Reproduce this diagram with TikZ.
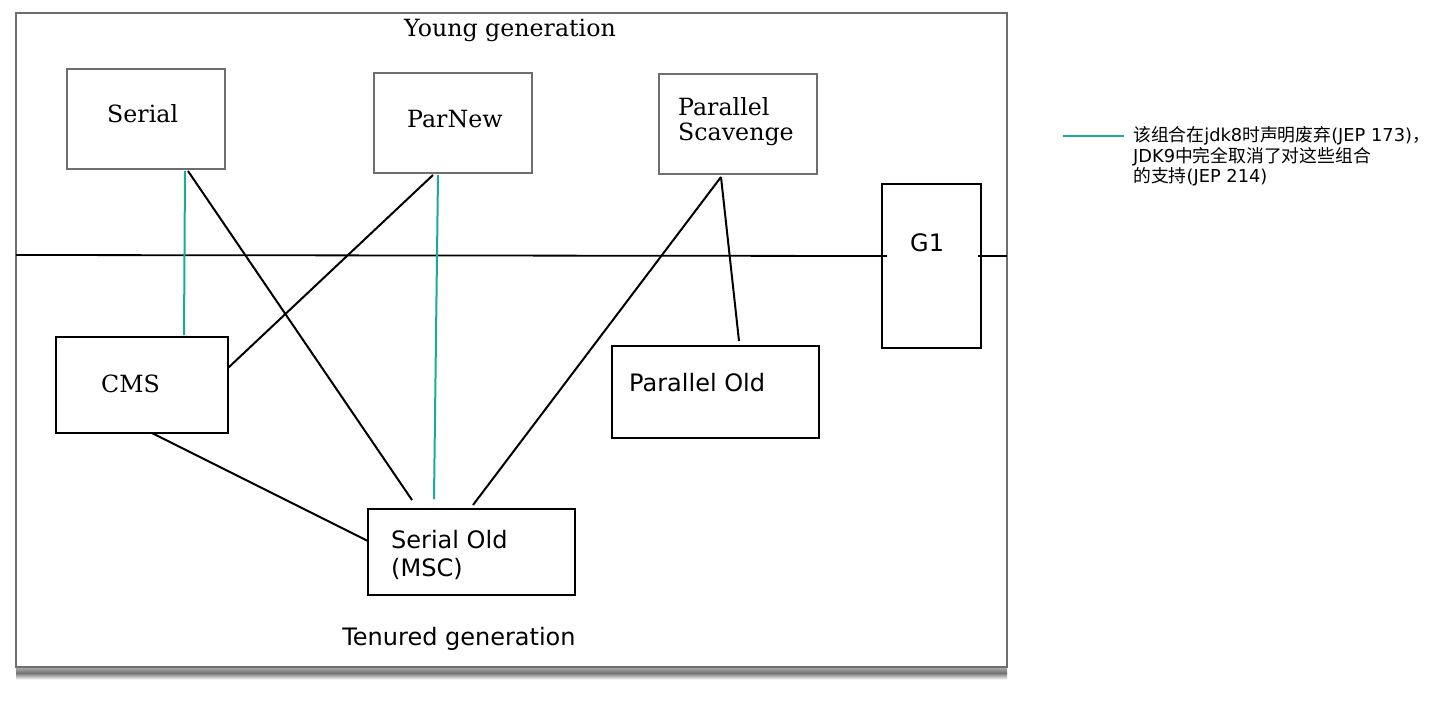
\documentclass[tikz,border=0pt]{standalone}
\usepackage{fontspec}
\setmainfont{DejaVu Serif}
\newfontfamily\dvsans{DejaVu Sans}
\newfontfamily\cjk{Noto Sans CJK SC}
\definecolor{tealline}{RGB}{26,170,155}
\definecolor{framegray}{RGB}{110,110,110}
\tikzset{
  ybox/.style={draw=framegray, line width=1.4pt, inner sep=0pt, outer sep=0pt, anchor=north west},
  tbox/.style={draw=black, line width=2pt, inner sep=0pt, outer sep=0pt, anchor=north west},
  conn/.style={draw=black, line width=2pt},
  tconn/.style={draw=tealline, line width=2pt},
  serift/.style={font=\fontsize{23.7}{26}\selectfont, inner sep=0pt, anchor=base west},
  sanst/.style={font=\dvsans\fontsize{24}{26}\selectfont, inner sep=0pt, anchor=base west},
  legt/.style={font=\dvsans\fontsize{17.8}{20}\selectfont, inner sep=0pt, anchor=base west}
}
\begin{document}
\begin{tikzpicture}[x=1pt,y=-1pt]
\useasboundingbox (0,0) rectangle (1440,710);
% outer frame with bottom shadow
\shade[top color=gray!55, bottom color=black!55] (16,666) rectangle (1007,673);
\shade[top color=black!55, bottom color=gray!10] (16,673) rectangle (1007,679);
\node[ybox, minimum width=991pt, minimum height=654pt] (frame) at (16,13) {};
\node[serift, anchor=base] (young) at (510,36) {Young generation};
\node[sanst, anchor=base] (tenured) at (459,645) {Tenured generation};
% young generation boxes
\node[ybox, minimum width=158pt, minimum height=100pt] (serial) at (67,69) {};
\node[serift] (serialt) at (107,122) {Serial};
\node[ybox, minimum width=158pt, minimum height=100pt] (parnew) at (374,73) {};
\node[serift] (parnewt) at (407,127) {ParNew};
\node[ybox, minimum width=158pt, minimum height=100pt] (ps) at (659,74) {};
\node[serift] (pst1) at (678,115) {Parallel};
\node[serift] (pst2) at (678,140) {Scavenge};
% tenured boxes
\node[tbox, minimum width=99pt, minimum height=164pt] (g1) at (882,184) {};
\node[sanst] (g1t) at (910,251) {G1};
\node[tbox, minimum width=172pt, minimum height=96pt] (cms) at (56,337) {};
\node[serift] (cmst) at (101,392) {CMS};
\node[tbox, minimum width=207pt, minimum height=92pt] (pold) at (612,346) {};
\node[sanst] (poldt) at (629,391) {Parallel Old};
\node[tbox, minimum width=207pt, minimum height=86pt] (sold) at (368,509) {};
\node[sanst] (soldt1) at (391,548) {Serial Old};
\node[sanst] (soldt2) at (391,576) {(MSC)};
% divider line
\coordinate (divL) at (16,255);
\coordinate (divG1a) at (887,256);
\coordinate (divG1b) at (978,256);
\coordinate (divR) at (1007,256);
\draw[conn, line width=1.8pt] (divL) -- (divG1a);
\draw[conn, line width=1.8pt] (divG1b) -- (divR);
% connector end points
\coordinate (sA) at (185,171);
\coordinate (sB) at (188,171);
\coordinate (cmsT) at (184,335);
\coordinate (cmsR) at (228,368);
\coordinate (cmsB) at (152,433);
\coordinate (pnA) at (433,175);
\coordinate (pnB) at (438,175);
\coordinate (psB) at (721,177);
\coordinate (soA) at (412,500);
\coordinate (soB) at (434,499);
\coordinate (soC) at (473,505);
\coordinate (soL) at (368,541);
\coordinate (poT) at (739,341);
\draw[tconn] (sA) -- (cmsT);
\draw[conn] (sB) -- (soA);
\draw[conn] (pnA) -- (cmsR);
\draw[tconn] (pnB) -- (soB);
\draw[conn] (psB) -- (soC);
\draw[conn] (psB) -- (poT);
\draw[conn] (cmsB) -- (soL);
% legend
\coordinate (legA) at (1063,136);
\coordinate (legB) at (1124,136);
\draw[tconn] (legA) -- (legB);
\node[legt] (leg1) at (1133,141) {{\cjk 该组合在}jdk8{\cjk 时声明废弃}(JEP 173){\cjk ，}};
\node[legt] (leg2) at (1133,162) {JDK9{\cjk 中完全取消了对这些组合}};
\node[legt] (leg3) at (1133,182) {{\cjk 的支持}(JEP 214)};
\end{tikzpicture}
\end{document}
